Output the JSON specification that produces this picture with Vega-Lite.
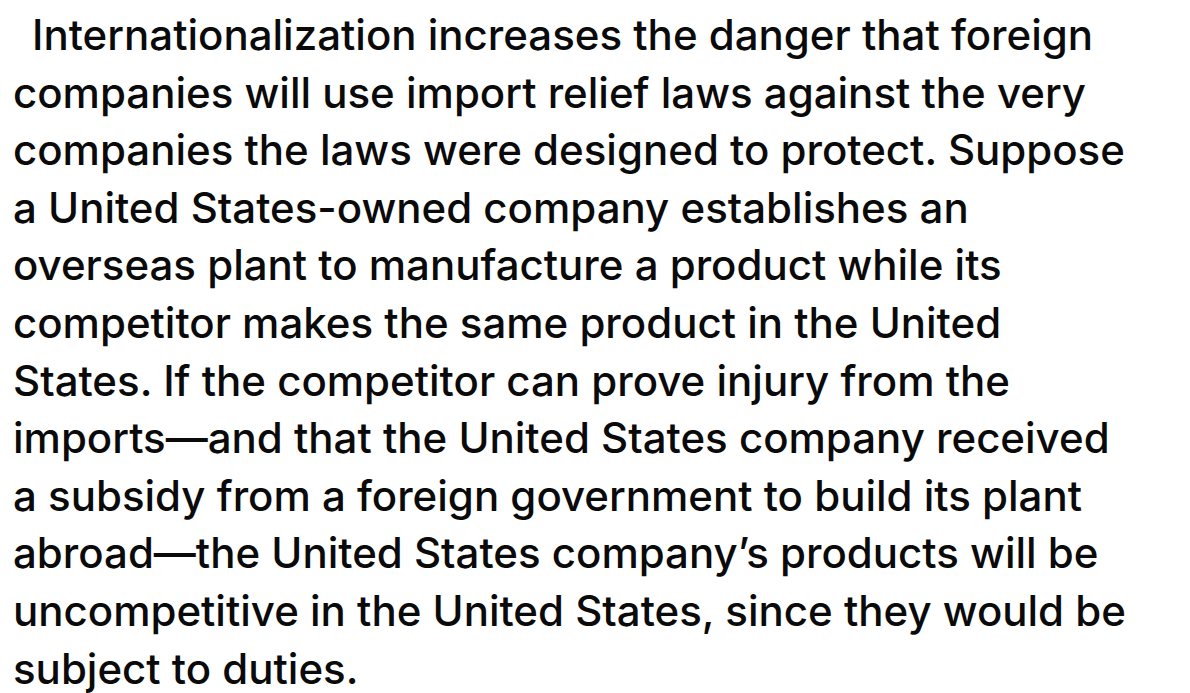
{
  "$schema": "https://vega.github.io/schema/vega-lite/v6.json",
  "width": 1190,
  "height": 693,
  "autosize": {"type": "fit", "contains": "padding"},
  "padding": 0,
  "background": "#ffffff",
  "config": {"view": {"stroke": null}},
  "data": {
    "values": [
      {"line": 1, "text": "Internationalization increases the danger that foreign"},
      {"line": 2, "text": "companies will use import relief laws against the very"},
      {"line": 3, "text": "companies the laws were designed to protect. Suppose"},
      {"line": 4, "text": "a United States-owned company establishes an"},
      {"line": 5, "text": "overseas plant to manufacture a product while its"},
      {"line": 6, "text": "competitor makes the same product in the United"},
      {"line": 7, "text": "States. If the competitor can prove injury from the"},
      {"line": 8, "text": "imports—and that the United States company received"},
      {"line": 9, "text": "a subsidy from a foreign government to build its plant"},
      {"line": 10, "text": "abroad—the United States company’s products will be"},
      {"line": 11, "text": "uncompetitive in the United States, since they would be"},
      {"line": 12, "text": "subject to duties."}
    ]
  },
  "encoding": {
    "x": {"datum": 0, "type": "quantitative", "scale": {"domain": [-13, 1177]}, "axis": null},
    "y": {"field": "line", "type": "quantitative", "scale": {"domain": [0.132, 12.163], "reverse": true}, "axis": null},
    "text": {"field": "text"}
  },
  "layer": [
    {
      "transform": [{"filter": "datum.line == 1"}],
      "mark": {"type": "text", "align": "left", "baseline": "alphabetic", "dx": 19, "font": "Inter", "fontWeight": 500, "fontSize": 42, "color": "#0a0a0a"}
    },
    {
      "transform": [{"filter": "datum.line > 1"}],
      "mark": {"type": "text", "align": "left", "baseline": "alphabetic", "font": "Inter", "fontWeight": 500, "fontSize": 42, "color": "#0a0a0a"}
    }
  ]
}
